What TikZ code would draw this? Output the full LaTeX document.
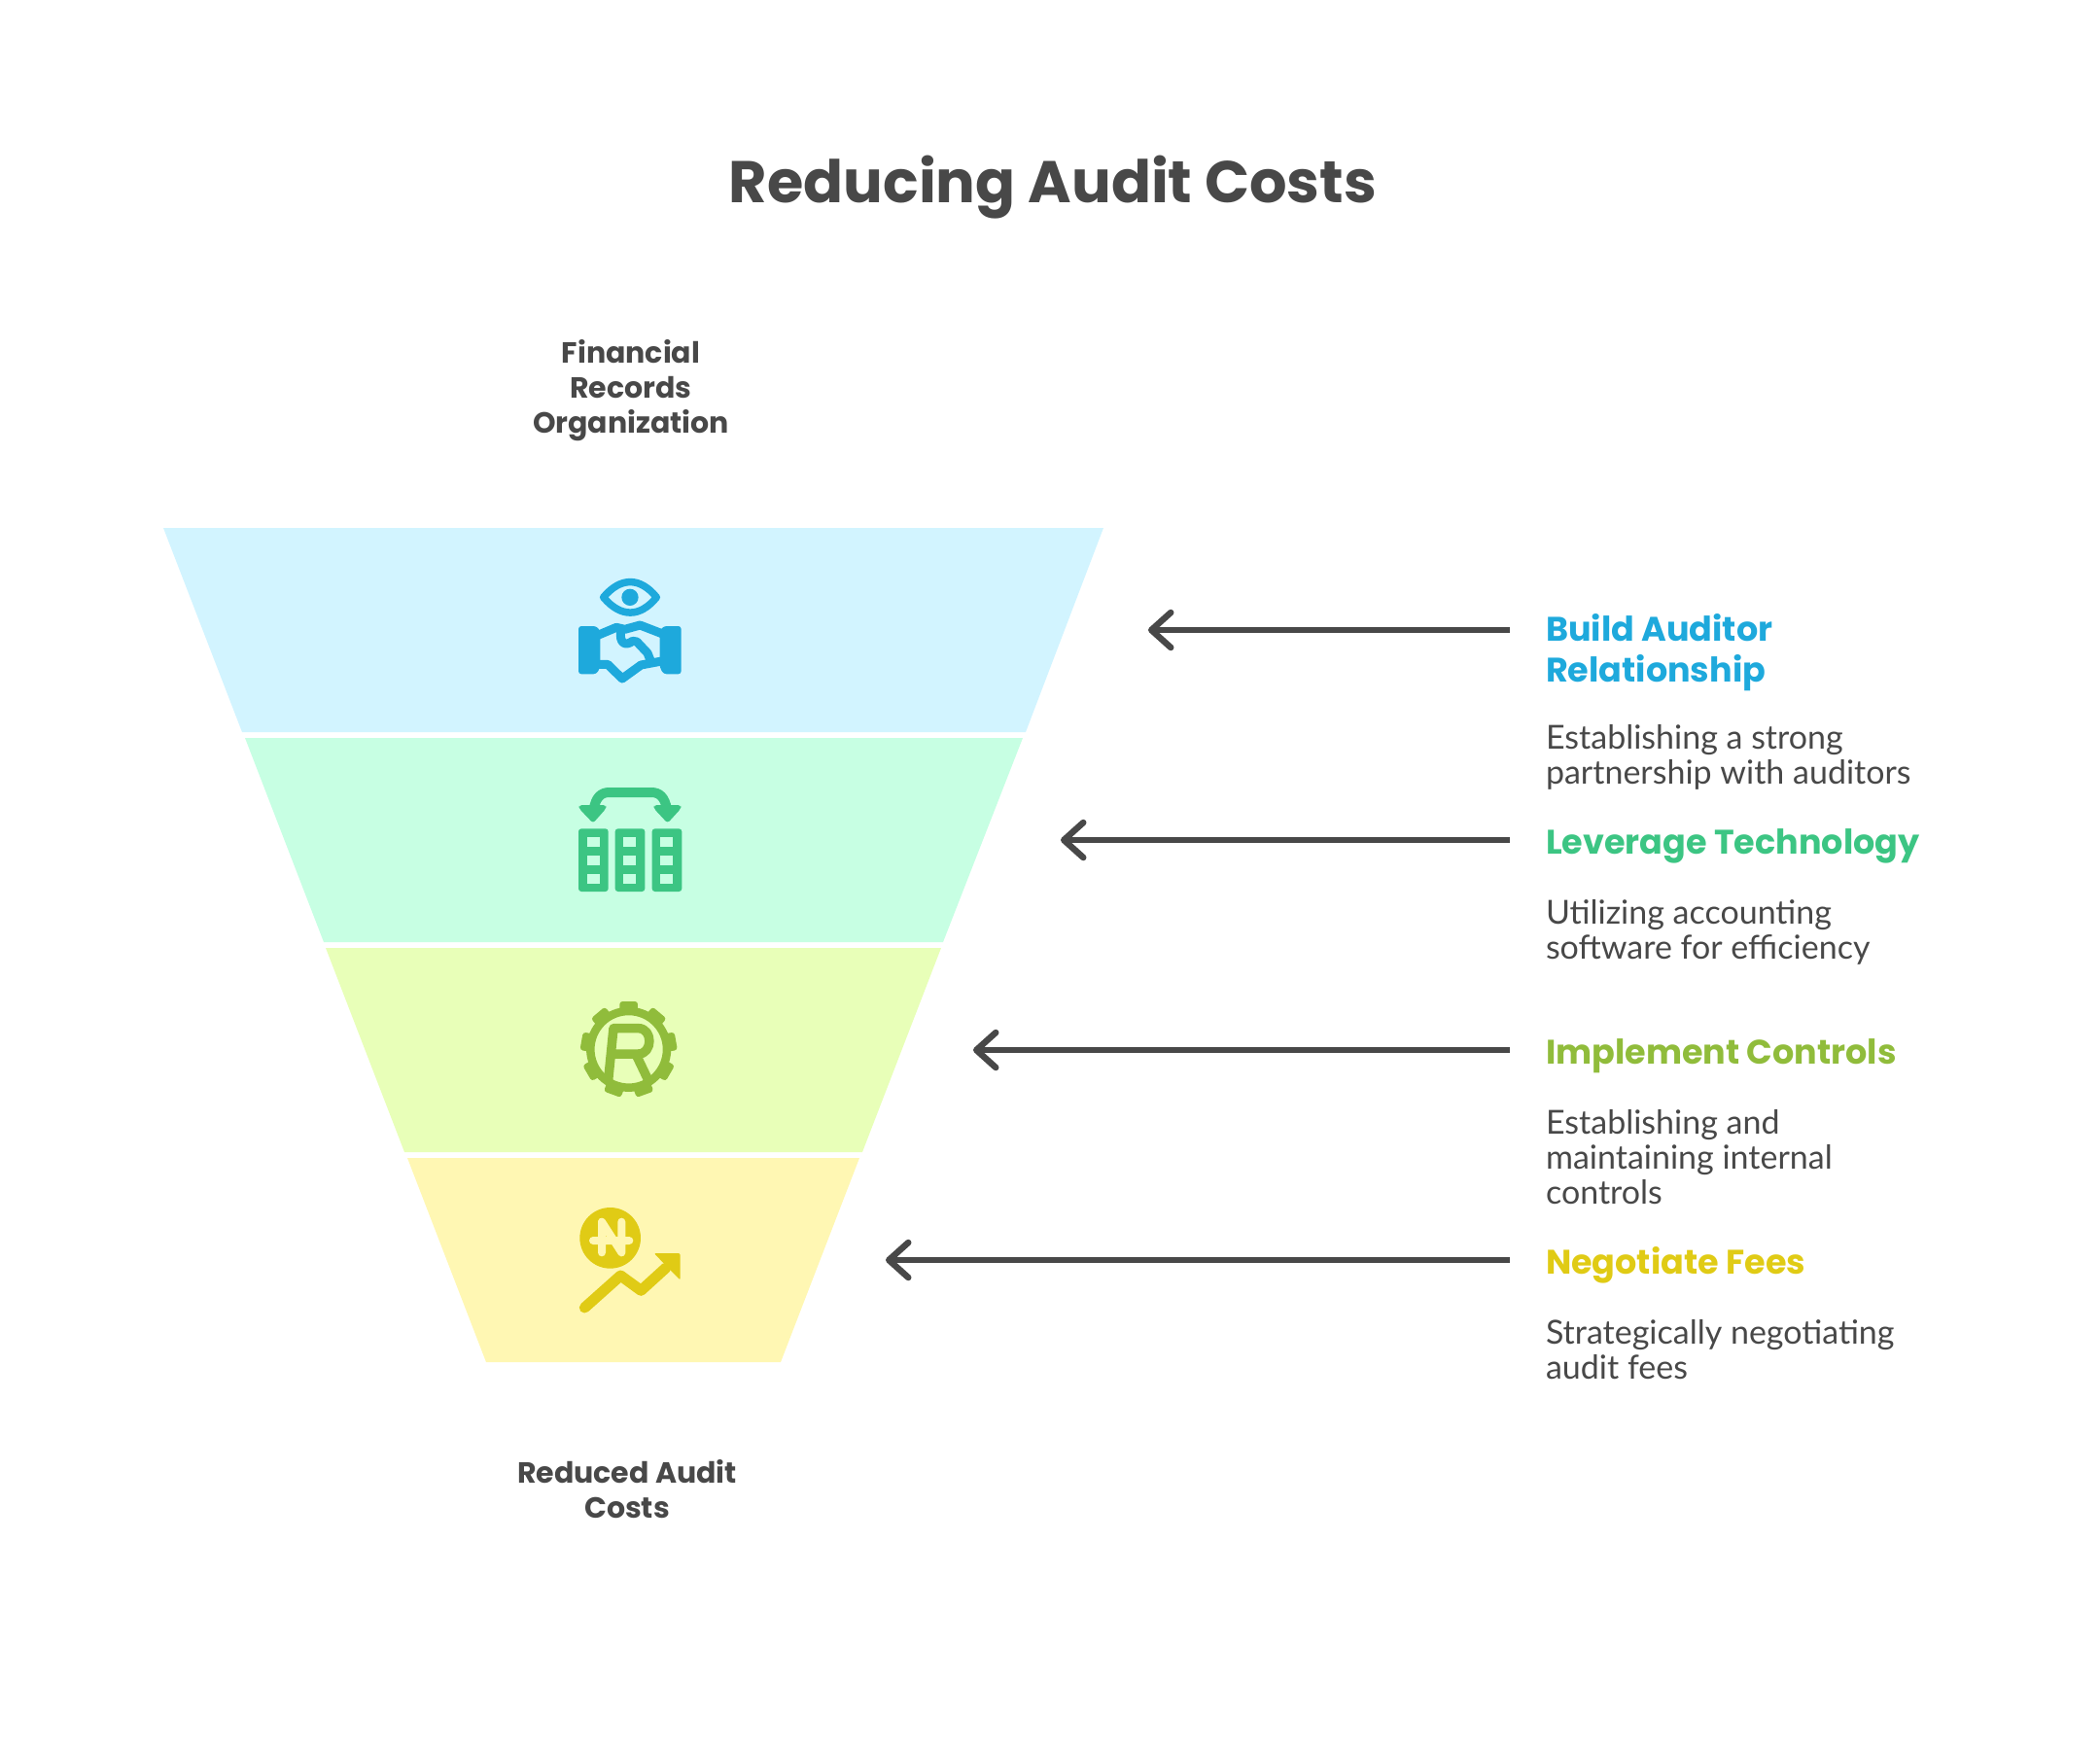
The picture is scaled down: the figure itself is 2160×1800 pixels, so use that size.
\documentclass[tikz,border=0pt]{standalone}
\usepackage{fontspec}
\setmainfont{Lato}
\newfontfamily\headfont{Poppins}
\usetikzlibrary{arrows.meta}
\definecolor{ink}{HTML}{484848}
\definecolor{bandblue}{HTML}{D2F4FF}
\definecolor{bandgreen}{HTML}{C7FFE3}
\definecolor{bandlime}{HTML}{E8FFB8}
\definecolor{bandyellow}{HTML}{FFF7B3}
\definecolor{iconblue}{HTML}{1EA9DC}
\definecolor{icongreen}{HTML}{3CC583}
\definecolor{iconlime}{HTML}{90BC3B}
\definecolor{iconyellow}{HTML}{E0CB15}
\begin{document}
\begin{tikzpicture}
  [x=1pt,y=-1pt,
   every node/.style={inner sep=0pt,outer sep=0pt,text=ink},
   headline/.style={anchor=base,align=center,font={\fontsize{60.5}{66}\selectfont\headfont\bfseries}},
   endlabel/.style={anchor=base,align=center,font={\fontsize{30}{36}\selectfont\headfont\bfseries}},
   stagehead/.style={anchor=base west,align=left,font={\fontsize{35}{42}\selectfont\headfont\bfseries}},
   stagedesc/.style={anchor=base west,align=left,font={\fontsize{34}{36}\selectfont}},
   pointer/.style={draw=ink,line width=6.5pt,-{Straight Barb[length=20pt,width=36pt,round]}},
   iconline/.style={line width=#1,line cap=round,line join=round,fill=none},
   iconbox/.style={shift={#1},scale=.3333}]
  \useasboundingbox (0,0) rectangle (2160,1800);

  \fill[bandblue] (168,543) -- (1135,543) -- (1055,753) -- (249,753) -- cycle;
  \fill[bandgreen] (252,759) -- (1052,759) -- (970,969) -- (333,969) -- cycle;
  \fill[bandlime] (335,975) -- (968,975) -- (887,1185) -- (416,1185) -- cycle;
  \fill[bandyellow] (419,1191) -- (884,1191) -- (803,1401) -- (500,1401) -- cycle;

  \node[headline] (title) at (1083,208) {Reducing Audit Costs};
  \node[endlabel] (toplabel) at (649,445) {Financial\\Records\\Organization};
  \node[endlabel] (bottomlabel) at (645,1561) {Reduced Audit\\Costs};

  \node[stagehead,text=iconblue] (buildhead) at (1590,701) {Build Auditor\\Relationship};
  \node[stagedesc] (builddesc) at (1590,806) {Establishing a strong\\partnership with auditors};
  \node[stagehead,text=icongreen] (techhead) at (1590,878) {Leverage Technology};
  \node[stagedesc] (techdesc) at (1590,986) {Utilizing accounting\\software for efficiency};
  \node[stagehead,text=iconlime] (ctrlhead) at (1590,1094) {Implement Controls};
  \node[stagedesc] (ctrldesc) at (1590,1238) {Establishing and\\maintaining internal\\controls};
  \node[stagehead,text=iconyellow] (feeshead) at (1590,1310) {Negotiate Fees};
  \node[stagedesc] (feesdesc) at (1590,1418) {Strategically negotiating\\audit fees};

  \coordinate (buildtail) at (1553,648);
  \coordinate (buildtip) at (1181,648);
  \coordinate (techtail) at (1553,864);
  \coordinate (techtip) at (1091,864);
  \coordinate (ctrltail) at (1553,1080);
  \coordinate (ctrltip) at (1001,1080);
  \coordinate (feestail) at (1553,1296);
  \coordinate (feestip) at (911,1296);
  \foreach \from/\to in {buildtail/buildtip,techtail/techtip,ctrltail/ctrltip,feestail/feestip}
    \draw[pointer] (\from) -- (\to);

  \begin{scope}[iconbox={(560,570)},iconblue]
    \draw[iconline=7.5pt] (182,133) .. controls (235,70) and (295,70) .. (346,133) .. controls (295,196) and (235,196) .. cycle;
    \fill (264,133) circle (26);
    \fill[rounded corners=3pt] (105,222) -- (160,222) -- (172,236) -- (172,350) -- (160,370) -- (105,370) -- cycle;
    \fill[rounded corners=3pt] (422,222) -- (368,222) -- (356,236) -- (356,350) -- (368,370) -- (422,370) -- cycle;
    \draw[iconline=9pt] (165,250) -- (222,226) -- (248,232) -- (295,219) -- (362,245);
    \draw[iconline=9pt] (165,340) -- (195,340) -- (240,384) -- (298,342) -- (362,330);
    \draw[iconline=9pt] (236,236) .. controls (230,275) and (250,285) .. (272,268) -- (285,270) -- (318,305) -- (328,330);
  \end{scope}

  \begin{scope}[iconbox={(560,790)},icongreen]
    \foreach \left in {105,218,332} {
      \fill[rounded corners=3pt] (\left,187) rectangle (\left+92,381);
      \foreach \top in {214,271,327}
        \fill[bandgreen] (\left+26,\top) rectangle (\left+65,\top+29);
    }
    \draw[iconline=10pt] (152,128) .. controls (158,90) and (175,75) .. (200,75) -- (330,75) .. controls (355,75) and (372,90) .. (378,128);
    \fill[rounded corners=3pt] (107,114) -- (190,114) -- (190,125) -- (150,170) -- (107,125) -- cycle;
    \fill[rounded corners=3pt] (338,114) -- (421,114) -- (421,125) -- (380,170) -- (338,125) -- cycle;
  \end{scope}

  \begin{scope}[iconbox={(560,1010)},iconlime]
    \draw[line width=8.5pt] (260,208) circle (118);
    \foreach \a in {0,40,...,320}
      \fill[rounded corners=3pt,rotate around={\a:(260,208)}] (232,60) rectangle (288,100);
    \draw[line width=9.5pt,line join=round] (197,303) -- (213,143) -- (290,143) .. controls (335,143) and (335,222) .. (290,222) -- (205,222);
    \draw[line width=9.5pt] (283,225) -- (318,298);
  \end{scope}

  \begin{scope}[iconbox={(560,1230)},iconyellow]
    \fill (203,130) circle (94);
    \draw[iconline=8pt,bandyellow] (177,80) -- (177,175) (238,80) -- (238,175) (177,80) -- (238,175) (150,138) -- (262,138);
    \draw[iconline=11pt] (124,345) -- (235,246) -- (298,292) -- (375,222);
    \fill[rounded corners=2pt] (338,177) -- (419,177) -- (419,260) -- cycle;
  \end{scope}
\end{tikzpicture}
\end{document}
